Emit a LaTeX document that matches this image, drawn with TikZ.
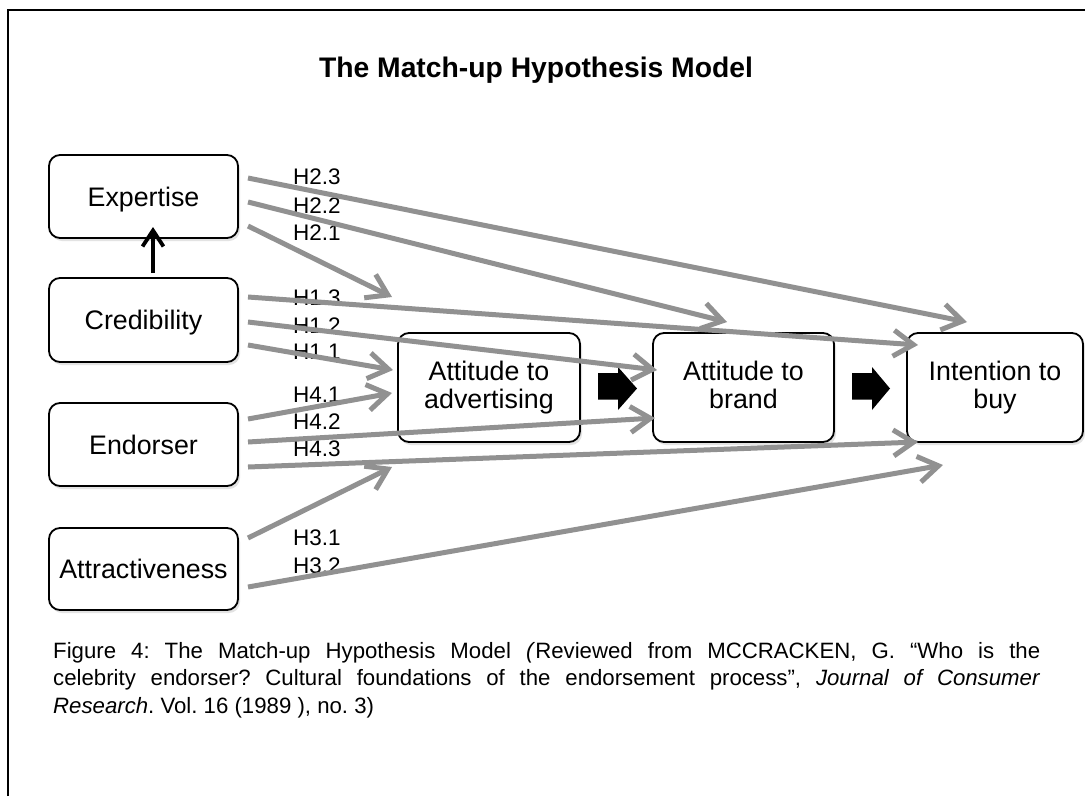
\documentclass[tikz,border=0pt]{standalone}
\usepackage{fontspec}
\setmainfont{Liberation Sans}
\usetikzlibrary{arrows.meta,shadows}
\definecolor{arrgray}{RGB}{145,145,145}
\begin{document}
\begin{tikzpicture}[x=1pt,y=-1pt,
  box/.style={draw=black, line width=1.8pt, rounded corners=11pt, fill=white, inner sep=0pt,
    font=\fontsize{26.8}{27.5}\selectfont, align=center,
    drop shadow={opacity=0.22, shadow xshift=2pt, shadow yshift=-3pt}},
  onebox/.style={box, text height=19.2pt, text depth=0pt},
  garrow/.style={draw=arrgray, line width=5pt, -{Straight Barb[length=20pt,width=26pt]}},
  barrow/.style={draw=black, line width=3.8pt, -{Straight Barb[length=16pt,width=21pt]}},
  lab/.style={anchor=west, inner sep=0pt, font=\fontsize{22.5}{24}\selectfont},
  blockarrow/.style={fill=black}
]
\useasboundingbox (0,0) rectangle (1085,796);
\fill[white] (0,0) rectangle (1085,796);
% frame
\coordinate (f1) at (8,796);
\coordinate (f2) at (8,10);
\coordinate (f3) at (1085,10);
\draw[line width=2pt] (f1) -- (f2) -- (f3);

% title
\node[anchor=base, inner sep=0pt, font=\fontsize{28.3}{30}\selectfont\bfseries] (title) at (536,77) {The Match-up Hypothesis Model};

% boxes
\node[onebox, minimum width=189pt, minimum height=83pt] (exp) at (143.5,196.5) {Expertise};
\node[onebox, minimum width=189pt, minimum height=84pt] (cred) at (143.5,320) {Credibility};
\node[onebox, minimum width=189pt, minimum height=83pt] (endo) at (143.5,444.5) {Endorser};
\node[onebox, minimum width=189pt, minimum height=82pt] (attr) at (143.5,569) {Attractiveness};
\node[box, minimum width=182pt, minimum height=109pt] (adv) at (489,387.5) {Attitude to\\advertising};
\node[box, minimum width=181pt, minimum height=109pt] (brand) at (743.5,387.5) {Attitude to\\brand\vphantom{g}};
\node[box, minimum width=176pt, minimum height=109pt] (buy) at (995,387.5) {Intention to\\buy};

% block arrows
\fill[blockarrow] (598,373) -- (618,373) -- (618,367) -- (637,388.5) -- (618,410) -- (618,399.5) -- (598,399.5) -- cycle;
\fill[blockarrow] (852,373) -- (872,373) -- (872,367) -- (890,388.5) -- (872,410) -- (872,399.5) -- (852,399.5) -- cycle;

% vertical arrow credibility -> expertise
\coordinate (v1) at (153,273);
\coordinate (v2) at (153,227);
\draw[barrow] (v1) -- (v2);

% labels
\node[lab] (l23) at (293,177) {H2.3};
\node[lab] (l22) at (293,206) {H2.2};
\node[lab] (l21) at (293,233) {H2.1};
\node[lab] (l13) at (293,298) {H1.3};
\node[lab] (l12) at (293,326) {H1.2};
\node[lab] (l11) at (293,352) {H1.1};
\node[lab] (l41) at (293,395) {H4.1};
\node[lab] (l42) at (293,422) {H4.2};
\node[lab] (l43) at (293,449) {H4.3};
\node[lab] (l31) at (293,538) {H3.1};
\node[lab] (l32) at (293,566) {H3.2};

% gray arrow coordinates
\coordinate (s23) at (248,178);  \coordinate (e23) at (967,322);
\coordinate (s22) at (248,202);  \coordinate (e22) at (727,322);
\coordinate (s21) at (248,226);  \coordinate (e21) at (392,297);
\coordinate (s13) at (248,297);  \coordinate (e13) at (918,345);
\coordinate (s12) at (248,322);  \coordinate (e12) at (657,370);
\coordinate (s11) at (248,345);  \coordinate (e11) at (393,370);
\coordinate (s41) at (248,419);  \coordinate (e41) at (392,393);
\coordinate (s42) at (248,442);  \coordinate (e42) at (655,418);
\coordinate (s43) at (248,467);  \coordinate (e43) at (918,442);
\coordinate (s31) at (248,538);  \coordinate (e31) at (392,467);
\coordinate (s32) at (248,587);  \coordinate (e32) at (943,465);

\foreach \a in {23,22,21,13,12,11,41,42,43,31,32}{
  \draw[garrow] (s\a) -- (e\a);
}

% caption
\node[anchor=north west, inner sep=0pt, text width=987pt, align=justify,
  font=\fontsize{22.2}{27.7}\selectfont\frenchspacing] (cap) at (53,642)
  {Figure 4: The Match-up Hypothesis Model \textit{(}Reviewed from MCCRACKEN, G. “Who is the\linebreak
  celebrity endorser? Cultural foundations of the endorsement process”, \textit{Journal of Consumer}\linebreak
  \textit{Research}. Vol. 16 (1989 ), no. 3)};
\end{tikzpicture}
\end{document}
